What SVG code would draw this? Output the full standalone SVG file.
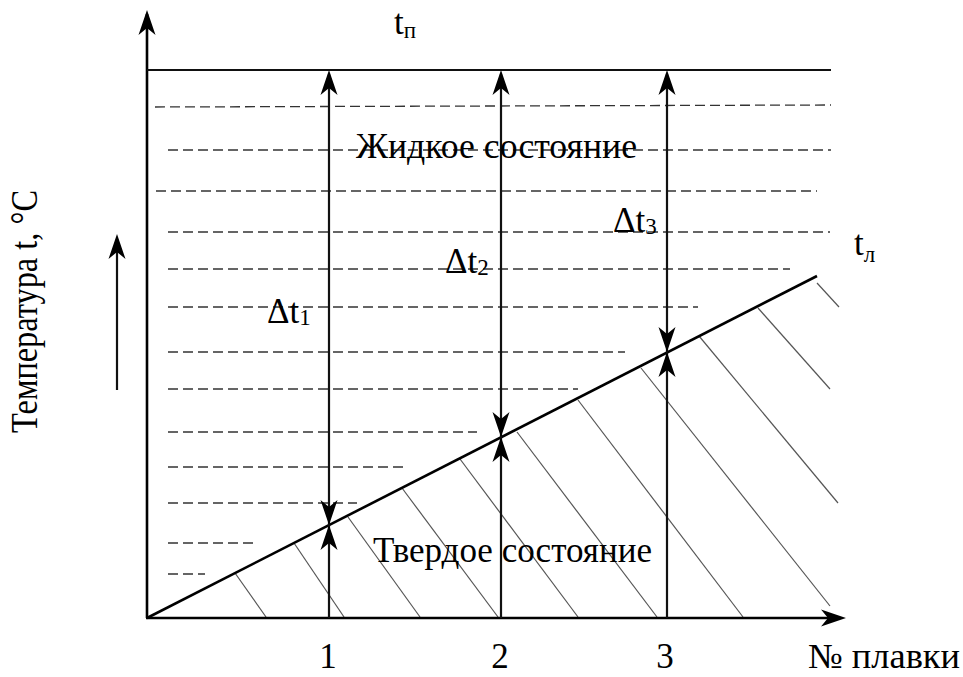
<svg xmlns="http://www.w3.org/2000/svg" xmlns:xlink="http://www.w3.org/1999/xlink" width="963" height="677" viewBox="0 0 963 677">
<style>
.ax{stroke:#000;stroke-width:2.6;fill:none}
.vl{stroke:#111;stroke-width:2.2;fill:none}
.liq{stroke:#000;stroke-width:2.6;fill:none}
.dash{stroke:#333;stroke-width:1.3;stroke-dasharray:10 5;fill:none}
.hatch{stroke:#555;stroke-width:1.2;fill:none}
.t{font-family:"Liberation Serif","Times New Roman",serif;fill:#000}
.big{font-size:35px}
.sub{font-size:23px}
</style>
<defs>
<path id="ah" d="M0,0 L-8.5,25 L0,18 L8.5,25 Z" fill="#000"/>
</defs>
<rect width="963" height="677" fill="#fff"/>

<g id="dashes">
<line class="dash" x1="155" y1="107" x2="831" y2="105"/>
<line class="dash" x1="168" y1="150" x2="831" y2="150"/>
<line class="dash" x1="156" y1="191" x2="817" y2="191"/>
<line class="dash" x1="168" y1="232" x2="830" y2="232"/>
<line class="dash" x1="168" y1="269" x2="790" y2="269"/>
<line class="dash" x1="168" y1="307" x2="698" y2="307"/>
<line class="dash" x1="168" y1="352" x2="625" y2="352"/>
<line class="dash" x1="168" y1="389" x2="578" y2="389"/>
<line class="dash" x1="168" y1="432" x2="477" y2="432"/>
<line class="dash" x1="168" y1="467" x2="403" y2="467"/>
<line class="dash" x1="168" y1="503" x2="357" y2="503"/>
<line class="dash" x1="168" y1="543" x2="258" y2="543"/>
<line class="dash" x1="168" y1="574" x2="205" y2="574"/>
</g>

<g id="hatching">
<line class="hatch" x1="235" y1="573" x2="266" y2="617"/>
<line class="hatch" x1="294" y1="543" x2="344" y2="617"/>
<line class="hatch" x1="348" y1="517" x2="420" y2="617"/>
<line class="hatch" x1="402" y1="488" x2="498" y2="617"/>
<line class="hatch" x1="460" y1="459" x2="578" y2="617"/>
<line class="hatch" x1="517" y1="432" x2="657" y2="617"/>
<line class="hatch" x1="578" y1="400" x2="743" y2="617"/>
<line class="hatch" x1="641" y1="368" x2="830" y2="606"/>
<line class="hatch" x1="699" y1="336" x2="838" y2="503"/>
<line class="hatch" x1="758" y1="308" x2="830" y2="389"/>
<line class="hatch" x1="817" y1="283" x2="839" y2="307"/>
</g>

<g id="axes">
<line class="ax" x1="147" y1="14" x2="147" y2="618"/>
<line class="ax" x1="146" y1="618" x2="840" y2="618"/>
<use xlink:href="#ah" transform="translate(147,10)"/>
<use xlink:href="#ah" transform="translate(846,618) rotate(90)"/>
<line class="vl" x1="147" y1="70" x2="831" y2="70"/>
<line class="liq" x1="147" y1="618" x2="817" y2="276"/>
</g>

<g id="connectors">
<line class="vl" x1="329" y1="74" x2="329" y2="618"/>
<line class="vl" x1="501" y1="74" x2="501" y2="618"/>
<line class="vl" x1="667" y1="74" x2="667" y2="618"/>
<use xlink:href="#ah" transform="translate(329,70)"/>
<use xlink:href="#ah" transform="translate(501,70)"/>
<use xlink:href="#ah" transform="translate(667,70)"/>
<use xlink:href="#ah" transform="translate(329,525) rotate(180)"/>
<use xlink:href="#ah" transform="translate(329,525)"/>
<use xlink:href="#ah" transform="translate(501,437) rotate(180)"/>
<use xlink:href="#ah" transform="translate(501,437)"/>
<use xlink:href="#ah" transform="translate(667,352) rotate(180)"/>
<use xlink:href="#ah" transform="translate(667,352)"/>
<line class="vl" x1="117" y1="240" x2="117" y2="390"/>
<use xlink:href="#ah" transform="translate(117,234)"/>
</g>

<g id="labels">
<text class="t big" x="394" y="34">t<tspan class="sub" dy="4">п</tspan></text>
<text class="t big" x="854" y="255">t<tspan class="sub" dy="7">л</tspan></text>
<text class="t big" x="356" y="158" textLength="281" lengthAdjust="spacingAndGlyphs">Жидкое состояние</text>
<text class="t big" x="373" y="562" textLength="279" lengthAdjust="spacingAndGlyphs">Твердое состояние</text>
<text class="t big" x="267" y="323">Δt<tspan class="sub" dy="2">1</tspan></text>
<text class="t big" x="445" y="273">Δt<tspan class="sub" dy="2">2</tspan></text>
<text class="t big" x="613" y="232">Δt<tspan class="sub" dy="2">3</tspan></text>
<text class="t big" x="328" y="668" text-anchor="middle">1</text>
<text class="t big" x="500" y="668" text-anchor="middle">2</text>
<text class="t big" x="665" y="668" text-anchor="middle">3</text>
<text class="t big" x="808" y="668" textLength="152" lengthAdjust="spacingAndGlyphs">№ плавки</text>
<text class="t big" transform="translate(37,433) scale(1.1,1) rotate(-90)" textLength="243" lengthAdjust="spacingAndGlyphs">Температура t, °C</text>
</g>
</svg>
